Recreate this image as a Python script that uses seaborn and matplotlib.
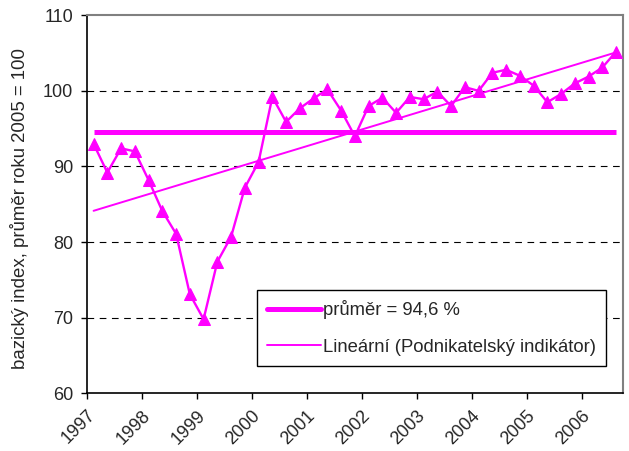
import numpy as np
import pandas as pd
import matplotlib
matplotlib.use("Agg")
import matplotlib.pyplot as plt
import seaborn as sns
from matplotlib.lines import Line2D

years = ["1997", "1998", "1999", "2000", "2001", "2002", "2003", "2004", "2005", "2006"]
values = [93.0, 89.2, 92.4, 92.0, 88.2, 84.1, 81.1, 73.1, 69.8, 77.4,
          80.7, 87.2, 90.6, 99.2, 95.9, 97.7, 99.0, 100.2, 97.4, 94.0,
          98.0, 99.1, 97.1, 99.2, 98.9, 99.9, 98.0, 100.5, 100.0, 102.4,
          102.8, 102.0, 100.7, 98.5, 99.6, 101.0, 101.9, 103.1, 105.2]
mean_value = 94.6
mean_label = "průměr = 94,6 %"
trend_label = "Lineární (Podnikatelský indikátor)"
y_label = "bazický index, průměr roku 2005 = 100"

sns.set_style("white")
plt.rcParams['font.family'] = ['Liberation Sans', 'DejaVu Sans']

FS = 13
color = "#FF00FF"
df = pd.DataFrame({"pos": np.arange(len(values)), "value": values})

fig = plt.figure(figsize=(6.29, 4.51), dpi=100)
W = 623 - 86.7
H = 393.3 - 15.3
ax = fig.add_axes([86.7/629, 1 - 393.3/451, W/629, H/451])

# grid lines
for g in [70, 80, 90, 100]:
    ax.axhline(g, color="black", lw=0.8, ls=(0, (6, 5)), zorder=0)

# mean line
ax.plot([df["pos"].min(), df["pos"].max()], [mean_value, mean_value], color=color, lw=3.6, zorder=2, solid_capstyle="butt")

# trend line
sns.regplot(data=df, x="pos", y="value", ci=None, scatter=False, truncate=True,
            line_kws={"color": color, "lw": 1.4, "zorder": 2}, ax=ax)

# series
sns.lineplot(data=df, x="pos", y="value", color=color, lw=1.7, marker="^",
             markersize=8, markeredgecolor=color, ax=ax, zorder=3)

ax.set_xlim(-0.5, len(values) - 0.5)
ax.set_ylim(60, 110)
ax.set_yticks([60, 70, 80, 90, 100, 110])
ax.set_yticklabels(["60", "70", "80", "90", "100", "110"], fontsize=FS)
xt = [-0.5 + 4 * i for i in range(len(years))]
ax.set_xticks(xt)
ax.set_xticklabels(years, rotation=45, ha="right", rotation_mode="anchor", fontsize=FS)
ax.tick_params(axis="both", which="both", direction="out", length=4.3, width=1, color="black", bottom=True, left=True, pad=5.5)
ax.set_xlabel("")
ax.set_ylabel(y_label, fontsize=13.4)
ax.yaxis.set_label_coords((29 - 86.7) / W, 0.49)

for side in ["top", "right"]:
    ax.spines[side].set_color("#808080")
    ax.spines[side].set_linewidth(1.5)
for side in ["left", "bottom"]:
    ax.spines[side].set_color("black")
    ax.spines[side].set_linewidth(1.2)

handles = [Line2D([], [], color=color, lw=3.6), Line2D([], [], color=color, lw=1.4)]
leg = ax.legend(handles, [mean_label, trend_label], loc="upper left",
                bbox_to_anchor=((257 - 86.7)/W, (393.3 - 290)/H), fontsize=13.3,
                frameon=True, fancybox=False, edgecolor="black", framealpha=1,
                handlelength=2.9, borderpad=0.55, labelspacing=1.05, handletextpad=0.1,
                borderaxespad=0)
leg.get_frame().set_linewidth(1)

fig.savefig("out.png", dpi=100)
